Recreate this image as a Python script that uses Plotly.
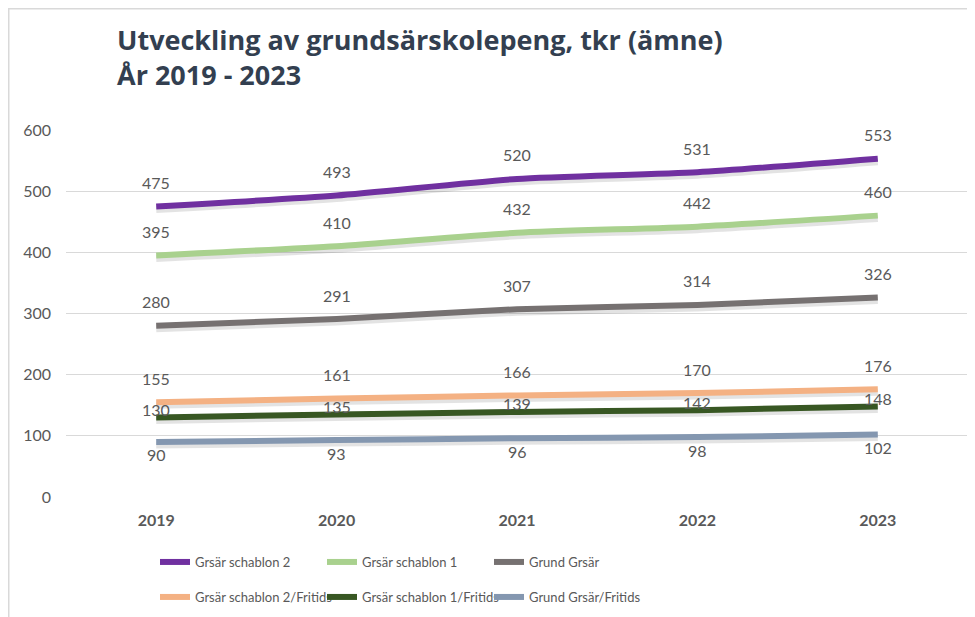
import plotly.graph_objects as go

# ---- data
years = ["2019", "2020", "2021", "2022", "2023"]

schablon_2 = [475, 493, 520, 531, 553]
schablon_1 = [395, 410, 432, 442, 460]
grund_grsar = [280, 291, 307, 314, 326]
schablon_2_fritids = [155, 161, 166, 170, 176]
schablon_1_fritids = [130, 135, 139, 142, 148]
grund_grsar_fritids = [90, 93, 96, 98, 102]

names = [
    "Grsär schablon 2",
    "Grsär schablon 1",
    "Grund Grsär",
    "Grsär schablon 2/Fritids",
    "Grsär schablon 1/Fritids",
    "Grund Grsär/Fritids",
]
values = [schablon_2, schablon_1, grund_grsar,
          schablon_2_fritids, schablon_1_fritids, grund_grsar_fritids]
colors = ["#7030A0", "#A9D18E", "#767171", "#F4B183", "#385723", "#8497B0"]
label_shift = [24, 24, 24, 24, 8, -13]
legend_ids = ["legend", "legend", "legend", "legend2", "legend2", "legend2"]

FONT = "Lato"
GREY = "#595959"

# page body has an 8px margin, so the figure starts at (8, 8) on screen
OFF = 8
W, H = 967, 609
# plot area on screen: x 66..968, y 130..497
L, T = 66 - OFF, 130 - OFF
R, B = W + OFF - 968, H + OFF - 497
PW, PH = W - L - R, H - T - B
Y_MAX = 600
SHADOW_PX = 3


def px_x(px):
    return (px - OFF - L) / PW


def px_y(py):
    return (H + OFF - B - py) / PH


fig = go.Figure()

# soft drop shadow under each line (same data, slightly lower axis)
for vals in values:
    fig.add_trace(go.Scatter(
        x=years, y=vals, mode="lines", yaxis="y2", showlegend=False,
        line=dict(color="rgba(0,0,0,0.11)", width=7, shape="spline", smoothing=0.6),
        hoverinfo="skip",
    ))

annotations = []
for name, vals, color, shift, leg in zip(names, values, colors, label_shift, legend_ids):
    fig.add_trace(go.Scatter(
        x=years, y=vals, name=name, mode="lines", yaxis="y3",
        line=dict(color=color, width=6, shape="spline", smoothing=0.6),
        legend=leg, hoverinfo="skip",
    ))
    for i, v in enumerate(vals):
        annotations.append(dict(
            x=i, y=v, xref="x", yref="y", text=str(v), showarrow=False,
            yshift=shift, font=dict(family=FONT, size=16, color=GREY),
        ))

legend_style = dict(
    orientation="h", xanchor="left", yanchor="middle",
    entrywidth=122, entrywidthmode="pixels",
    font=dict(family=FONT, size=13, color=GREY), bgcolor="rgba(0,0,0,0)",
)

shadow_shift = SHADOW_PX * Y_MAX / PH
hidden_axis = dict(overlaying="y", visible=False, showgrid=False, zeroline=False)

fig.update_layout(
    width=W, height=H,
    margin=dict(l=L, r=R, t=T, b=B, autoexpand=False),
    paper_bgcolor="white", plot_bgcolor="white",
    font=dict(family=FONT, size=16, color=GREY),
    title=dict(
        text="Utveckling av grundsärskolepeng, tkr (ämne)<br>År 2019 - 2023",
        font=dict(family="Open Sans", size=27, color="#333F50", weight="bold"),
        xref="paper", x=px_x(117), xanchor="left",
        yref="container", y=1 - 42 / H, yanchor="top",
    ),
    xaxis=dict(
        type="category", range=[-0.5, 4.5], showgrid=False, zeroline=False,
        showline=False, ticks="", ticklabelstandoff=12,
        tickfont=dict(family=FONT, size=16, color=GREY, weight="bold"),
    ),
    yaxis=dict(
        range=[0, Y_MAX], dtick=100, showgrid=True, gridcolor="#D9D9D9",
        gridwidth=1, zeroline=False, showline=False, ticks="",
        ticklabelstandoff=14, tickfont=dict(family=FONT, size=16, color=GREY),
    ),
    yaxis2=dict(range=[shadow_shift, Y_MAX + shadow_shift], **hidden_axis),
    yaxis3=dict(range=[0, Y_MAX], **hidden_axis),
    legend=dict(x=px_x(155), y=px_y(562), **legend_style),
    legend2=dict(x=px_x(155), y=px_y(597), **legend_style),
    annotations=annotations,
    shapes=[dict(
        type="rect", xref="paper", yref="paper",
        x0=px_x(8.5), x1=px_x(990), y0=px_y(640), y1=px_y(8.5),
        line=dict(color="#D9D9D9", width=2), layer="below",
    )],
    showlegend=True,
)

fig.write_html("out.html")
